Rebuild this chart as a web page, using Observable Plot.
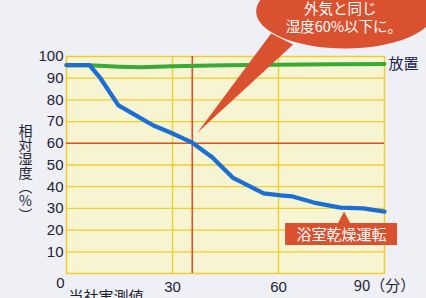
<!DOCTYPE html>
<html><head><meta charset="utf-8">
<script src="https://cdn.jsdelivr.net/npm/d3@7"></script>
<script src="https://cdn.jsdelivr.net/npm/@observablehq/plot@0.6"></script>
<style>
html,body{margin:0;padding:0;background:#eef0f6;}
#chart{width:426px;height:298px;overflow:hidden;}
</style></head><body><div id="chart"></div>
<script>
// Series: 浴室乾燥運転 (bathroom dryer) — minutes vs relative humidity
const dryerMinutes  = [0, 6.5, 9.6, 14.7, 20, 24.6, 29.4, 35.6, 41.3, 47, 55.8, 60.6, 64, 70, 77.5, 84, 90];
const dryerHumidity = [96, 96, 90, 77.5, 72.5, 68.2, 65, 60.3, 53.5, 44.2, 36.9, 36, 35.5, 32.7, 30.4, 30, 28.5];
// Series: 放置 (left alone)
const leftMinutes  = [0, 6.5, 15, 21, 30, 45, 60, 75, 90];
const leftHumidity = [96, 96, 95.3, 95, 95.5, 96, 96.2, 96.4, 96.5];
// Ticks
const xTicks = [30, 60];
const yTicks = [10, 20, 30, 40, 50, 60, 70, 80, 90, 100];
const gridY = [10, 20, 30, 40, 50, 60, 70, 80, 90];
// Reference lines
const refMinute = 35.6;
const refHumidity = 60;
// Texts
const yTitle = "相\n対\n湿\n度\n︵\n%\n︶";
const calloutLines = ["外気と同じ", "湿度60%以下に。"];
const dryerLabel = "浴室乾燥運転";
const leftLabel = "放置";
const sourceNote = "当社実測値";
const lastTick = "90（分）";

const dryer = dryerMinutes.map((t, i) => ({t, h: dryerHumidity[i]}));
const left = leftMinutes.map((t, i) => ({t, h: leftHumidity[i]}));

const JP = "'Noto Sans CJK JP', sans-serif";
const NUM = "'Liberation Sans', Arial, sans-serif";
const RED = "#d9512f";

// callout decoration (ellipse + pointer) drawn via scales
function callout(index, scales) {
  const sx = scales.x, sy = scales.y;
  const cx = sx(79), cy = sy(120.5);
  const g = d3.create("svg:g");
  const tipX = sx(37.1), tipY = sy(64.5);
  g.append("path")
    .attr("d", `M${cx - 74},${cy + 22} L${tipX},${tipY} L${cx - 52},${cy + 33} Z`)
    .attr("fill", RED);
  g.append("ellipse")
    .attr("cx", cx).attr("cy", cy).attr("rx", 89).attr("ry", 37)
    .attr("fill", RED);
  return g.node();
}
function labelBox(index, scales) {
  const sx = scales.x, sy = scales.y;
  const x0 = sx(62), x1 = sx(93.7), y0 = sy(23), y1 = sy(12.9);
  const tx = sx(78.7), ty = sy(28.3);
  const g = d3.create("svg:g");
  g.append("path")
    .attr("d", `M${x0},${y0} L${tx - 6},${y0} L${tx},${ty} L${tx + 6},${y0} L${x1},${y0} L${x1},${y1} L${x0},${y1} Z`)
    .attr("fill", RED);
  return g.node();
}

const chart = Plot.plot({
  width: 426,
  height: 298,
  marginLeft: 66,
  marginRight: 42,
  marginTop: 56,
  marginBottom: 25,
  style: {background: "#eef0f6", fontFamily: NUM, color: "#1f2233", overflow: "visible"},
  x: {domain: [0, 90]},
  y: {domain: [0, 100]},
  marks: [
    Plot.frame({fill: "#f7f4d1", stroke: null}),
    Plot.ruleY(gridY, {stroke: "#f1cd2c", strokeWidth: 1.3}),
    Plot.ruleX(xTicks, {stroke: "#f1cd2c", strokeWidth: 1.3}),
    Plot.frame({stroke: "#f1cd2c", strokeWidth: 1.5}),
    Plot.ruleY([refHumidity], {stroke: "#d4532c", strokeWidth: 1.6}),
    Plot.ruleX([refMinute], {stroke: "#d4532c", strokeWidth: 1.6}),
    Plot.line(left, {x: "t", y: "h", stroke: "#3aaa36", strokeWidth: 4}),
    Plot.line(dryer, {x: "t", y: "h", stroke: "#1b6fd4", strokeWidth: 4.3, strokeLinejoin: "round"}),
    Plot.axisY({ticks: yTicks, tickSize: 0, tickPadding: 3, fontSize: 15, fill: "#1f2233", label: null}),
    Plot.axisX({ticks: xTicks, tickSize: 0, tickPadding: 8, fontSize: 15, fill: "#1f2233", label: null}),
    Plot.text([0], {x: 0, y: 0, text: d => String(d), dx: -6, dy: 10, fontSize: 15, fill: "#1f2233"}),
    Plot.text([lastTick], {x: 90, y: 0, text: d => d, dy: 13, fontSize: 15, fill: "#1f2233", fontFamily: JP}),
    Plot.text([yTitle], {frameAnchor: "left", text: d => d, textAnchor: "middle", dx: -41, dy: 9, fontSize: 14, lineHeight: 1, fill: "#1f2233", fontFamily: JP}),
    Plot.text([sourceNote], {frameAnchor: "bottom-left", text: d => d, dx: 2, dy: 28, textAnchor: "start", fontSize: 15, fill: "#1f2233", fontFamily: JP}),
    Plot.text([leftLabel], {x: 90, y: 96.5, text: d => d, dx: 4, textAnchor: "start", fontSize: 15, fill: "#1d2552", fontFamily: JP}),
    callout,
    Plot.text([calloutLines[0]], {x: 77.5, y: 121.5, text: d => d, fontSize: 14.5, fill: "white", fontFamily: JP}),
    Plot.text([calloutLines[1]], {x: 78.5, y: 113.3, text: d => d, fontSize: 14.5, fill: "white", fontFamily: JP}),
    labelBox,
    Plot.text([dryerLabel], {x: 77.8, y: 17.6, text: d => d, fontSize: 15, fill: "white", fontFamily: JP})
  ]
});
document.getElementById("chart").appendChild(chart);
</script>
</body></html>
